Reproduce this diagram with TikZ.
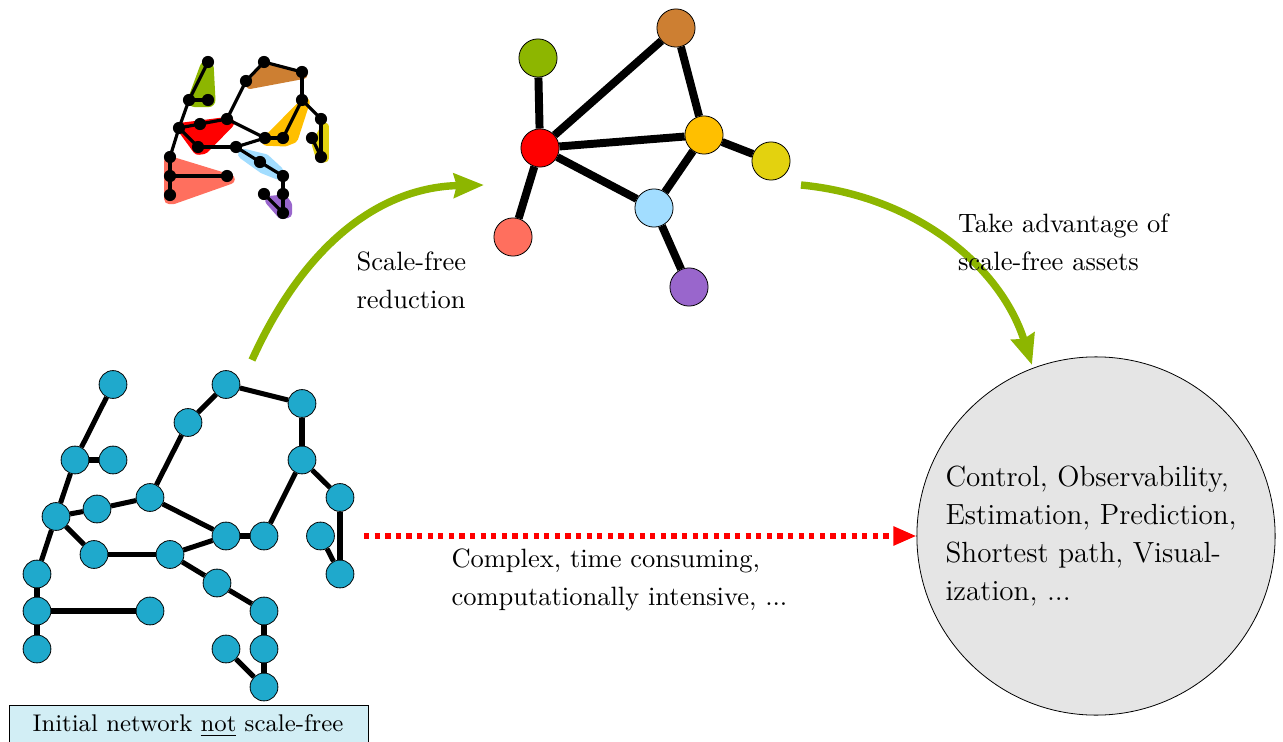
\documentclass[tikz,border=0pt]{standalone}
\usetikzlibrary{arrows.meta}
\begin{document}
\begin{tikzpicture}[x=0.3774pt,y=-0.3774pt,
  bn/.style={circle,draw=black,line width=0.3pt,fill=netblue,minimum size=10.5pt,inner sep=0pt},
  sn/.style={circle,fill=black,minimum size=4.6pt,inner sep=0pt},
  tn/.style={circle,draw=black,line width=0.3pt,minimum size=14.4pt,inner sep=0pt},
  bl/.style={line width=1.9pt,black},
  sl/.style={line width=1.2pt,black},
  tl/.style={line width=3pt,black},
  hull/.style={draw=#1,fill=#1,line join=round},
  lab/.style={align=left,anchor=north west,inner sep=0pt,font=\fontsize{10}{14.34}\selectfont},
  bigarrow/.style={line width=2.8pt,colA,-{Stealth[length=11.3pt,width=9pt,inset=1pt]}}
]
\definecolor{netblue}{HTML}{1FA9CC}
\definecolor{colA}{HTML}{8DB600}
\definecolor{colB}{HTML}{CD7F32}
\definecolor{colC}{HTML}{FF0000}
\definecolor{colD}{HTML}{FFBF00}
\definecolor{colE}{HTML}{E3D20F}
\definecolor{colF}{HTML}{A2DDFF}
\definecolor{colG}{HTML}{FF6F5E}
\definecolor{colH}{HTML}{9966CC}
\definecolor{boxfill}{HTML}{D2EEF5}
\path[use as bounding box] (0,0) rectangle (1283,742);

% hulls
\begin{scope}[shift={(150,40)},scale=1/3]
\draw[hull=colA,line width=5.4pt] (170,85) -- (135,180) -- (175,180) -- cycle;
\draw[hull=colB,line width=3pt] (350,78) -- (460,105) -- (300,135) -- cycle;
\draw[hull=colC,line width=4.4pt] (100,265) -- (235,248) -- (160,325) -- (145,327) -- cycle;
\draw[hull=colD,line width=3.6pt] (465,187) -- (430,295) -- (405,305) -- (350,303) -- cycle;
\draw[hull=colE,line width=3pt] (525,260) -- (525,355) -- (510,355) -- (497,312) -- cycle;
\draw[hull=colF,line width=4pt] (280,342) -- (345,358) -- (385,395) -- (385,403) -- (340,385) -- cycle;
\draw[hull=colG,line width=3.6pt] (57,362) -- (240,418) -- (70,478) -- (57,478) -- cycle;
\draw[hull=colH,line width=3.6pt] (360,482) -- (400,478) -- (412,495) -- (412,520) -- (395,522) -- cycle;
\end{scope}

% small network
\node[sn] (s1) at (208,62) {};
\node[sn] (s2) at (264,62) {};
\node[sn] (s3) at (302,72) {};
\node[sn] (s4) at (246,81) {};
\node[sn] (s5) at (189,100) {};
\node[sn] (s6) at (208,100) {};
\node[sn] (s7) at (302,100) {};
\node[sn] (s8) at (321,119) {};
\node[sn] (s9) at (227,119) {};
\node[sn] (s10) at (200,124) {};
\node[sn] (s11) at (179,128) {};
\node[sn] (s12) at (265,138) {};
\node[sn] (s13) at (283,138) {};
\node[sn] (s14) at (312,138) {};
\node[sn] (s15) at (198,147) {};
\node[sn] (s16) at (236,147) {};
\node[sn] (s17) at (170,157) {};
\node[sn] (s18) at (321,157) {};
\node[sn] (s19) at (260,162) {};
\node[sn] (s20) at (170,176) {};
\node[sn] (s21) at (227,176) {};
\node[sn] (s22) at (283,176) {};
\node[sn] (s23) at (170,195) {};
\node[sn] (s24) at (264,194) {};
\node[sn] (s25) at (283,194) {};
\node[sn] (s26) at (283,213) {};
\foreach \a/\b in {1/5,5/6,5/11,11/10,10/9,9/4,4/2,2/3,3/7,7/8,8/18,18/14,7/13,13/12,12/9,12/16,16/15,15/11,11/17,17/20,20/23,20/21,16/19,19/22,22/25,25/26,26/24}
  \draw[sl] (s\a.center) -- (s\b.center);

% initial network
\node[bn] (a1) at (113,384.5) {};
\node[bn] (a2) at (226,384.5) {};
\node[bn] (a3) at (302,403.5) {};
\node[bn] (a4) at (188,422.5) {};
\node[bn] (a5) at (75,460) {};
\node[bn] (a6) at (113,460) {};
\node[bn] (a7) at (302,460) {};
\node[bn] (a8) at (340,497.5) {};
\node[bn] (a9) at (150,497.5) {};
\node[bn] (a10) at (97,509) {};
\node[bn] (a11) at (56,516.5) {};
\node[bn] (a12) at (226,536) {};
\node[bn] (a13) at (264,536) {};
\node[bn] (a14) at (320.5,536) {};
\node[bn] (a15) at (94,554.5) {};
\node[bn] (a16) at (170,554.5) {};
\node[bn] (a17) at (37,574) {};
\node[bn] (a18) at (340,574) {};
\node[bn] (a19) at (217,583) {};
\node[bn] (a20) at (37,611) {};
\node[bn] (a21) at (150,611) {};
\node[bn] (a22) at (264,611) {};
\node[bn] (a23) at (37,649) {};
\node[bn] (a24) at (226,649) {};
\node[bn] (a25) at (264,649) {};
\node[bn] (a26) at (264,687) {};
\foreach \a/\b in {1/5,5/6,5/11,11/10,10/9,9/4,4/2,2/3,3/7,7/8,8/18,18/14,7/13,13/12,12/9,12/16,16/15,15/11,11/17,17/20,20/23,20/21,16/19,19/22,22/25,25/26,26/24}
  \draw[bl] (a\a) -- (a\b);

% box
\node[draw=black,line width=0.3pt,fill=boxfill,minimum width=135.5pt,minimum height=16pt,inner sep=0pt,anchor=north west] (box) at (9,705) {};
\node[inner sep=0pt,font=\fontsize{9.1}{11}\selectfont] (boxt) at (188,725.5) {Initial network \underline{not} scale-free};

% top network
\node[tn,fill=colC] (r) at (540,148) {};
\node[tn,fill=colB] (b) at (676,28) {};
\node[tn,fill=colA] (g) at (538,58) {};
\node[tn,fill=colD] (o) at (704,135) {};
\node[tn,fill=colE] (y) at (771,161) {};
\node[tn,fill=colF] (l) at (654,208) {};
\node[tn,fill=colG] (s) at (513,237) {};
\node[tn,fill=colH] (p) at (689,287) {};
\foreach \a/\b in {r/g,r/b,b/o,r/o,o/y,o/l,r/l,l/p,r/s}
  \draw[tl] (\a) -- (\b);

% big circle
\node[circle,draw=black,line width=0.3pt,fill=black!10,minimum size=135.2pt,inner sep=0pt] (c) at (1096,536) {};
\node[lab,font=\fontsize{11}{14.34}\selectfont] (ct) at (945,465.5) {Control, Observability,\\Estimation, Prediction,\\Shortest path, Visual-\\ization, ...};

% arrows
\coordinate (a0) at (252,360);
\coordinate (a1e) at (484,185);
\coordinate (t0) at (801,185);
\coordinate (t1e) at (1032,365);
\coordinate (d0) at (364,536);
\draw[bigarrow] (a0) .. controls (310,232) and (390,187) .. (a1e);
\draw[bigarrow] (t0) .. controls (915,196) and (1000,265) .. (t1e);
\draw[line width=2pt,colC,dotted,-{Triangle[length=8.7pt,width=6.8pt]}] (d0) -- (c.west);

% labels
\node[lab] (l1) at (356,251.5) {Scale-free\\reduction};
\node[lab] (l2) at (957.5,213.5) {Take advantage of\\scale-free assets};
\node[lab] (l3) at (451,548) {Complex, time consuming,\\computationally intensive, ...};
\end{tikzpicture}
\end{document}
